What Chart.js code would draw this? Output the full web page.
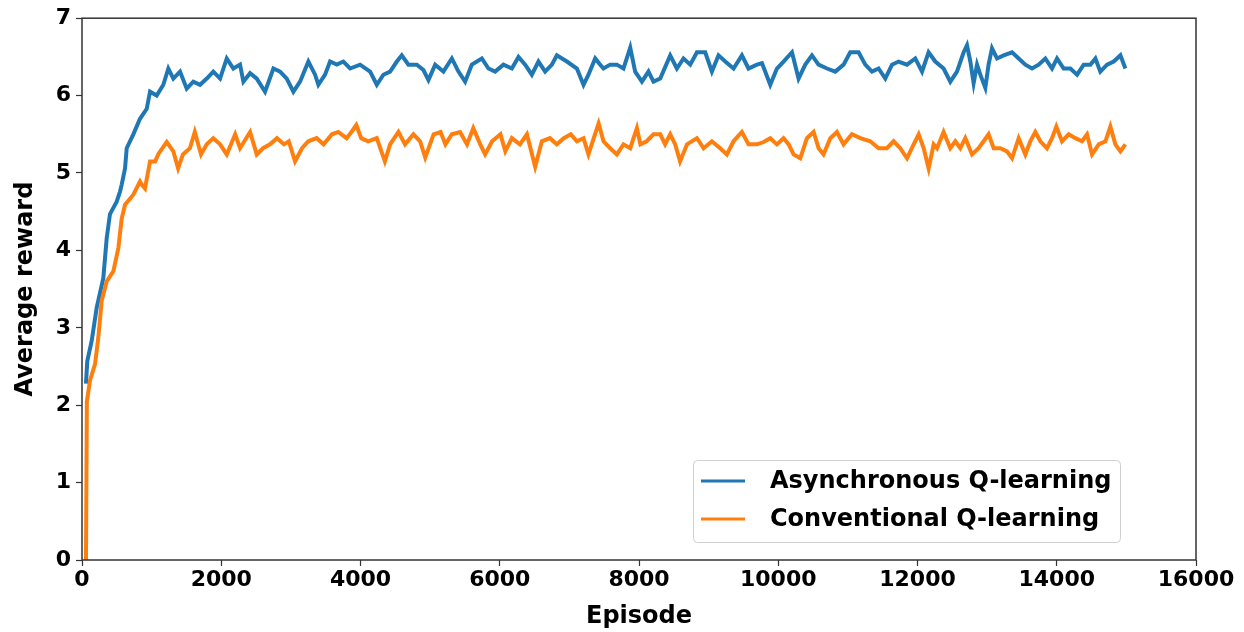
<!DOCTYPE html>
<html>
<head>
<meta charset="utf-8">
<title>Average reward per episode</title>
<script src="https://cdn.jsdelivr.net/npm/chart.js@4.4.1/dist/chart.umd.min.js"></script>
<style>
  html, body { margin: 0; padding: 0; background: #fff; }
  #wrap { width: 1244px; height: 632px; }
</style>
</head>
<body>
<div id="wrap"><canvas id="rewardChart" width="1244" height="632"></canvas></div>
<script>
// values (episode, average reward)
var asyncEpisodes = [57, 76, 139, 211, 306, 355, 402, 450, 498, 546, 570, 618, 642, 737, 833, 930, 977, 1073, 1168, 1240,
    1312, 1408, 1504, 1599, 1695, 1792, 1886, 1983, 2079, 2174, 2270, 2318, 2414, 2510, 2629, 2749, 2845, 2941, 3036, 3132,
    3251, 3348, 3395, 3491, 3563, 3659, 3754, 3851, 3994, 4138, 4234, 4329, 4425, 4522, 4593, 4688, 4809, 4904, 4976, 5072,
    5191, 5312, 5407, 5503, 5599, 5743, 5838, 5934, 6053, 6174, 6269, 6365, 6461, 6556, 6652, 6749, 6820, 6964, 7108, 7203,
    7274, 7371, 7443, 7490, 7586, 7682, 7777, 7874, 7945, 8042, 8136, 8208, 8305, 8448, 8544, 8639, 8736, 8832, 8951, 9047,
    9142, 9239, 9358, 9478, 9573, 9694, 9766, 9885, 9981, 10076, 10197, 10292, 10388, 10484, 10579, 10700, 10819, 10938, 11034, 11154,
    11250, 11346, 11441, 11537, 11634, 11728, 11849, 11968, 12065, 12159, 12256, 12375, 12471, 12567, 12663, 12711, 12759, 12806, 12855, 12902,
    12974, 13021, 13070, 13142, 13237, 13358, 13453, 13549, 13645, 13740, 13836, 13932, 14004, 14099, 14195, 14292, 14387, 14483, 14555, 14626,
    14723, 14818, 14914, 14986];
var asyncReward = [2.28, 2.57, 2.83, 3.26, 3.64, 4.16, 4.47, 4.55, 4.63, 4.76, 4.85, 5.06, 5.32, 5.5, 5.7, 5.83, 6.05, 6.0, 6.14, 6.35,
    6.22, 6.31, 6.09, 6.18, 6.14, 6.22, 6.31, 6.22, 6.48, 6.35, 6.4, 6.18, 6.29, 6.22, 6.05, 6.35, 6.31, 6.22, 6.05, 6.18,
    6.44, 6.27, 6.14, 6.27, 6.44, 6.4, 6.44, 6.35, 6.4, 6.31, 6.14, 6.27, 6.31, 6.44, 6.52, 6.4, 6.4, 6.33, 6.2, 6.4,
    6.31, 6.48, 6.31, 6.18, 6.4, 6.48, 6.35, 6.31, 6.4, 6.35, 6.5, 6.4, 6.27, 6.44, 6.31, 6.4, 6.52, 6.44, 6.35, 6.14,
    6.27, 6.48, 6.4, 6.35, 6.4, 6.4, 6.35, 6.62, 6.31, 6.18, 6.31, 6.18, 6.22, 6.52, 6.35, 6.48, 6.4, 6.56, 6.56, 6.31,
    6.52, 6.44, 6.35, 6.52, 6.35, 6.4, 6.42, 6.14, 6.35, 6.44, 6.56, 6.22, 6.4, 6.52, 6.4, 6.35, 6.31, 6.4, 6.56, 6.56,
    6.4, 6.31, 6.35, 6.22, 6.4, 6.44, 6.4, 6.48, 6.31, 6.56, 6.44, 6.35, 6.18, 6.31, 6.56, 6.65, 6.44, 6.16, 6.4, 6.27,
    6.1, 6.4, 6.61, 6.48, 6.52, 6.56, 6.48, 6.4, 6.35, 6.4, 6.48, 6.35, 6.48, 6.35, 6.35, 6.27, 6.4, 6.4, 6.48, 6.31,
    6.4, 6.44, 6.52, 6.35];

var convEpisodes = [57, 70, 115, 187, 234, 283, 355, 450, 522, 570, 618, 737, 833, 858, 905, 977, 1050, 1100, 1217, 1312,
    1380, 1450, 1550, 1620, 1710, 1792, 1886, 1983, 2079, 2200, 2270, 2414, 2510, 2600, 2700, 2800, 2900, 2970, 3060, 3160,
    3251, 3370, 3470, 3590, 3680, 3800, 3870, 3940, 4010, 4110, 4234, 4350, 4425, 4545, 4640, 4760, 4856, 4930, 5050, 5150,
    5220, 5312, 5430, 5530, 5620, 5720, 5790, 5890, 6010, 6080, 6174, 6290, 6390, 6509, 6605, 6720, 6820, 6920, 7020, 7108,
    7203, 7274, 7350, 7420, 7490, 7586, 7682, 7777, 7874, 7970, 8020, 8110, 8208, 8305, 8375, 8448, 8520, 8590, 8690, 8832,
    8928, 9047, 9166, 9262, 9358, 9478, 9573, 9694, 9790, 9885, 9981, 10076, 10150, 10220, 10316, 10412, 10508, 10580, 10650, 10748,
    10843, 10938, 11058, 11178, 11322, 11441, 11561, 11657, 11752, 11849, 11945, 12017, 12089, 12160, 12232, 12280, 12375, 12471, 12543, 12615,
    12687, 12783, 12878, 12950, 13021, 13094, 13190, 13285, 13358, 13453, 13549, 13620, 13692, 13764, 13860, 13932, 13994, 14075, 14171, 14268,
    14363, 14435, 14507, 14603, 14699, 14770, 14842, 14914, 14986];
var convReward = [0.0, 2.05, 2.32, 2.53, 2.87, 3.35, 3.6, 3.73, 4.03, 4.41, 4.59, 4.72, 4.89, 4.85, 4.8, 5.15, 5.15, 5.25, 5.4, 5.28,
    5.06, 5.24, 5.32, 5.53, 5.24, 5.37, 5.45, 5.37, 5.24, 5.5, 5.32, 5.53, 5.24, 5.32, 5.37, 5.45, 5.37, 5.41, 5.15, 5.32,
    5.41, 5.45, 5.37, 5.5, 5.53, 5.45, 5.53, 5.62, 5.45, 5.41, 5.45, 5.15, 5.37, 5.53, 5.37, 5.5, 5.41, 5.2, 5.5, 5.53,
    5.37, 5.5, 5.53, 5.37, 5.58, 5.37, 5.24, 5.41, 5.5, 5.28, 5.45, 5.37, 5.5, 5.08, 5.41, 5.45, 5.37, 5.45, 5.5, 5.41,
    5.45, 5.24, 5.45, 5.64, 5.41, 5.32, 5.24, 5.37, 5.32, 5.58, 5.37, 5.41, 5.5, 5.5, 5.37, 5.5, 5.37, 5.15, 5.37, 5.45,
    5.32, 5.41, 5.32, 5.24, 5.41, 5.53, 5.37, 5.37, 5.4, 5.45, 5.37, 5.45, 5.37, 5.24, 5.19, 5.45, 5.53, 5.32, 5.24, 5.45,
    5.53, 5.37, 5.5, 5.45, 5.41, 5.32, 5.32, 5.41, 5.32, 5.19, 5.37, 5.5, 5.32, 5.06, 5.37, 5.32, 5.53, 5.32, 5.41, 5.32,
    5.45, 5.24, 5.32, 5.41, 5.5, 5.32, 5.32, 5.28, 5.19, 5.45, 5.24, 5.41, 5.53, 5.41, 5.32, 5.45, 5.6, 5.41, 5.5, 5.45,
    5.41, 5.5, 5.24, 5.37, 5.41, 5.6, 5.37, 5.28, 5.37];

var seriesLabels = ['Asynchronous Q-learning', 'Conventional Q-learning'];
var seriesColors = ['#1f77b4', '#ff7f0e'];
var xTicks = [0, 2000, 4000, 6000, 8000, 10000, 12000, 14000, 16000];
var yTicks = [0, 1, 2, 3, 4, 5, 6, 7];

var tickFont = { family: 'DejaVu Sans', size: 22, weight: 'bold' };
var titleFont = { family: 'DejaVu Sans', size: 24, weight: 'bold' };

/**
 * Transforme deux tableaux (x, y) en points pour Chart.js
 */
function toPoints(xs, ys){
    let pts = [];
    xs.forEach(function(x, i){
        pts.push({ x: x, y: ys[i] });
    });
    return pts;
}

// cadre complet autour de la zone de tracé (style matplotlib)
var frameBox = {
    id: 'frameBox',
    afterDatasetsDraw: function(chart){
        let a = chart.chartArea;
        let ctx = chart.ctx;
        ctx.save();
        ctx.strokeStyle = '#333';
        ctx.lineWidth = 1.5;
        ctx.strokeRect(a.left, a.top, a.right - a.left, a.bottom - a.top);
        ctx.restore();
    }
};

// légende dans la zone de tracé, en bas à droite
var insideLegend = {
    id: 'insideLegend',
    afterDraw: function(chart){
        let ctx = chart.ctx;
        let x0 = 693, y0 = 460, w = 427, h = 82;
        ctx.save();
        ctx.fillStyle = 'rgba(255,255,255,0.8)';
        ctx.strokeStyle = '#d0d0d0';
        ctx.lineWidth = 1;
        ctx.beginPath();
        ctx.roundRect(x0 + 0.5, y0 + 0.5, w, h, 4);
        ctx.fill();
        ctx.stroke();
        ctx.font = 'bold 24px "DejaVu Sans"';
        ctx.textBaseline = 'middle';
        chart.data.datasets.forEach(function(ds, i){
            let ly = y0 + 21 + i * 38;
            ctx.strokeStyle = ds.borderColor;
            ctx.lineWidth = 3;
            ctx.beginPath();
            ctx.moveTo(x0 + 8, ly);
            ctx.lineTo(x0 + 52, ly);
            ctx.stroke();
            ctx.fillStyle = '#000';
            ctx.fillText(ds.label, x0 + 77, ly + 1);
        });
        ctx.restore();
    }
};

var ctx = document.getElementById('rewardChart').getContext('2d');
var chart = new Chart(ctx, {
    type: 'line',
    data: {
        datasets: [{
            label: seriesLabels[0],
            data: toPoints(asyncEpisodes, asyncReward),
            borderColor: seriesColors[0],
            backgroundColor: seriesColors[0],
            borderWidth: 4,
            pointRadius: 0,
            tension: 0,
            order: 1
        }, {
            label: seriesLabels[1],
            data: toPoints(convEpisodes, convReward),
            borderColor: seriesColors[1],
            backgroundColor: seriesColors[1],
            borderWidth: 4,
            pointRadius: 0,
            tension: 0,
            order: 0
        }]
    },
    options: {
        responsive: false,
        animation: false,
        devicePixelRatio: 1,
        layout: { padding: { top: 16, right: 48, left: 0, bottom: 0 } },
        plugins: {
            legend: { display: false },
            tooltip: { enabled: false }
        },
        scales: {
            x: {
                type: 'linear',
                min: 0,
                max: 16000,
                afterBuildTicks: function(scale){
                    scale.ticks = xTicks.map(function(v){ return { value: v }; });
                },
                afterFit: function(scale){ scale.height = 72; },
                grid: { drawOnChartArea: false, tickLength: 6, color: '#333', tickWidth: 1.2 },
                border: { display: false },
                ticks: {
                    color: '#000', font: tickFont, padding: 1, maxRotation: 0, autoSkip: false,
                    callback: function(v){ return String(v); }
                },
                title: { display: true, text: 'Episode', color: '#000', font: titleFont, padding: { top: 0, bottom: 1 } }
            },
            y: {
                min: 0,
                max: 7,
                afterBuildTicks: function(scale){
                    scale.ticks = yTicks.map(function(v){ return { value: v }; });
                },
                afterFit: function(scale){ scale.width = 82; },
                grid: { drawOnChartArea: false, tickLength: 6, color: '#333', tickWidth: 1.2 },
                border: { display: false },
                ticks: { color: '#000', font: tickFont, padding: 5, callback: function(v){ return String(v); } },
                title: { display: true, text: 'Average reward', color: '#000', font: titleFont, padding: { top: 11, bottom: 0 } }
            }
        }
    },
    plugins: [frameBox, insideLegend]
});
</script>
</body>
</html>
